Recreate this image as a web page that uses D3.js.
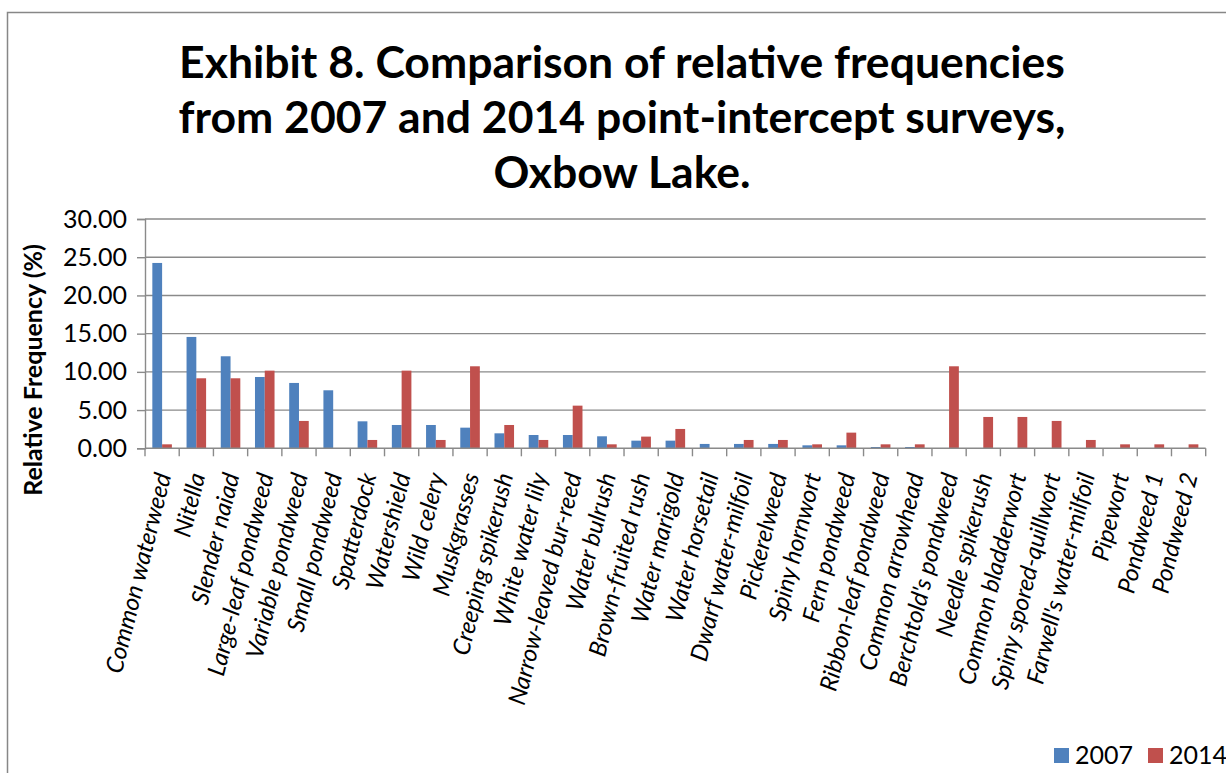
<!DOCTYPE html>
<html>
<head>
<meta charset="utf-8">
<script src="https://cdn.jsdelivr.net/npm/d3@7"></script>
<style>
  html, body { margin: 0; padding: 0; background: #fff; }
  svg { display: block; font-family: Lato, "Open Sans", sans-serif; }
</style>
</head>
<body>
<svg id="chart" width="1226" height="773"></svg>
<script>
const categories = ["Common waterweed","Nitella","Slender naiad","Large-leaf pondweed","Variable pondweed","Small pondweed","Spatterdock","Watershield","Wild celery","Muskgrasses","Creeping spikerush","White water lily","Narrow-leaved bur-reed","Water bulrush","Brown-fruited rush","Water marigold","Water horsetail","Dwarf water-milfoil","Pickerelweed","Spiny hornwort","Fern pondweed","Ribbon-leaf pondweed","Common arrowhead","Berchtold's pondweed","Needle spikerush","Common bladderwort","Spiny spored-quillwort","Farwell's water-milfoil","Pipewort","Pondweed 1","Pondweed 2"];
const series = ["2007", "2014"];
const values2007 = [24.25,14.57,12.04,9.33,8.55,7.59,3.53,3.05,3.05,2.70,1.96,1.74,1.74,1.57,1.00,1.00,0.57,0.57,0.57,0.39,0.39,0.17,0.17,0,0,0,0,0,0,0,0];
const values2014 = [0.52,9.16,9.16,10.16,3.58,0,1.09,10.16,1.09,10.73,3.05,1.09,5.58,0.52,1.53,2.53,0,1.09,1.09,0.52,2.05,0.52,0.52,10.73,4.10,4.10,3.58,1.09,0.52,0.52,0.52];
const yTicks = [0,5,10,15,20,25,30];
const titleLines = ["Exhibit 8. Comparison of relative frequencies","from 2007 and 2014 point-intercept surveys,","Oxbow Lake."];
const yTitle = "Relative Frequency (%)";
const colors = {"2007": "#4F81BD", "2014": "#C0504D"};

const svg = d3.select("#chart");
const W = 1226, H = 773;
const plot = {left: 145, right: 1205.7, top: 219, bottom: 448.3};

// outer chart border
svg.append("rect").attr("x", 7.5).attr("y", 12.5).attr("width", W + 20).attr("height", H + 20)
  .attr("fill", "#fff").attr("stroke", "#878787").attr("stroke-width", 1.5);

// title
const title = svg.append("text").attr("text-anchor", "middle").attr("font-weight", "bold")
  .attr("font-size", 44.5).attr("fill", "#000");
titleLines.forEach((t, i) => {
  title.append("tspan").attr("x", 622).attr("y", 78 + i * 55).text(t);
});

const x0 = d3.scaleBand().domain(categories).range([plot.left, plot.right]).padding(0);
const x1 = d3.scaleBand().domain(series).range([0, x0.bandwidth()]).paddingInner(0).paddingOuter(0.75);
const y = d3.scaleLinear().domain([0, 30]).range([plot.bottom, plot.top]);

// gridlines
svg.append("g").selectAll("line").data(yTicks.filter(d => d > 0)).join("line")
  .attr("x1", plot.left).attr("x2", plot.right)
  .attr("y1", d => y(d)).attr("y2", d => y(d))
  .attr("stroke", "#8a8a8a").attr("stroke-width", 1.4);

// bars
const rows = categories.map((c, i) => ({c, v: {"2007": values2007[i], "2014": values2014[i]}}));
const g = svg.append("g");
g.selectAll("g").data(rows).join("g")
  .attr("transform", d => `translate(${x0(d.c)},0)`)
  .selectAll("rect").data(d => series.map(s => ({s, v: d.v[s]})).filter(e => e.v > 0)).join("rect")
  .attr("x", d => x1(d.s)).attr("width", x1.bandwidth())
  .attr("y", d => y(d.v)).attr("height", d => y(0) - y(d.v))
  .attr("fill", d => colors[d.s]);

// y axis
const yAxis = d3.axisLeft(y).tickValues(yTicks).tickFormat(d3.format(".2f")).tickSize(8).tickPadding(10);
const ya = svg.append("g").attr("transform", `translate(${plot.left},0)`).call(yAxis);
ya.select(".domain").attr("stroke", "#8a8a8a").attr("stroke-width", 1.4);
ya.selectAll(".tick line").attr("stroke", "#8a8a8a").attr("stroke-width", 1.4);
ya.selectAll(".tick text").attr("font-size", 25).attr("fill", "#000").attr("font-family", "Lato");

// x axis
const xa = svg.append("g").attr("transform", `translate(0,${plot.bottom})`);
xa.append("line").attr("x1", plot.left).attr("x2", plot.right).attr("y1", 0).attr("y2", 0)
  .attr("stroke", "#8a8a8a").attr("stroke-width", 1.4);
const bounds = categories.map(c => x0(c)).concat([x0.range()[1]]);
xa.selectAll("line.tk").data(bounds).join("line").attr("class", "tk")
  .attr("x1", d => d).attr("x2", d => d).attr("y1", 0).attr("y2", 8)
  .attr("stroke", "#8a8a8a").attr("stroke-width", 1.4);
xa.selectAll("text").data(categories).join("text")
  .attr("transform", d => `translate(${x0(d) + x0.bandwidth() / 2 + 1},${25}) rotate(-76)`)
  .attr("text-anchor", "end").attr("dy", "0.35em")
  .attr("font-size", 24).attr("font-style", "italic").attr("fill", "#000")
  .text(d => d);

// y title
svg.append("text").attr("transform", `translate(42,370) rotate(-90)`)
  .attr("text-anchor", "middle").attr("font-weight", "bold").attr("font-size", 25)
  .attr("fill", "#000").text(yTitle);

// legend
const lg = svg.append("g");
const legendX = d3.scaleOrdinal().domain(series).range([1054, 1148]);
series.forEach(s => {
  const gx = legendX(s);
  lg.append("rect").attr("x", gx).attr("y", 748).attr("width", 15).attr("height", 15).attr("fill", colors[s]);
  lg.append("text").attr("x", gx + 21).attr("y", 764).attr("font-size", 25).attr("fill", "#000").text(s);
});
</script>
</body>
</html>
